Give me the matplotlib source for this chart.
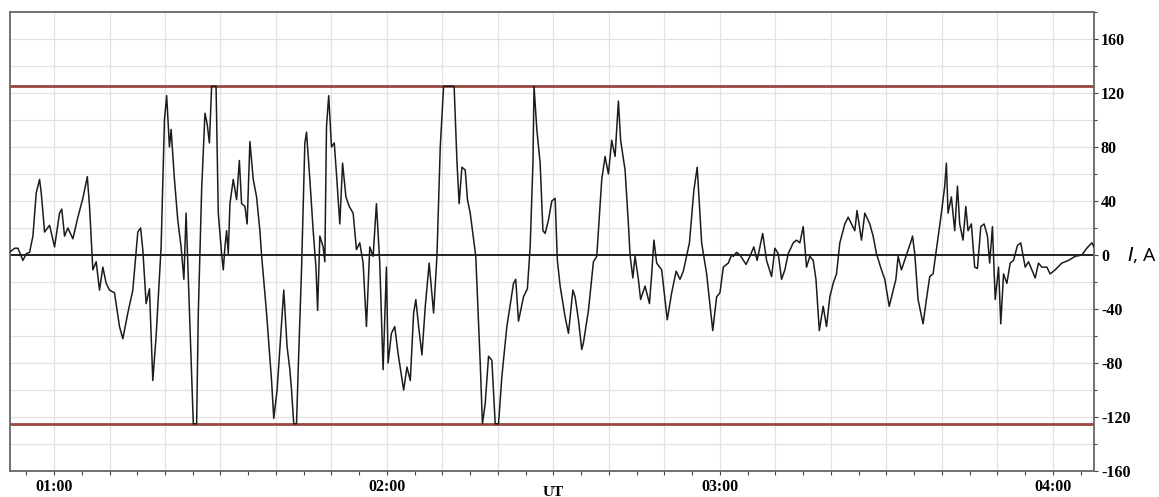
import numpy as np
import matplotlib.pyplot as plt
from matplotlib.ticker import MultipleLocator, FixedLocator

# Time in minutes after 00:00 UT and current in A
t_min = [
    51.7, 52.9, 53.5, 54.4, 55.0, 55.6, 56.2, 56.8, 57.4, 57.7, 58.3, 59.2,
    60.1, 61.0, 61.4, 61.9, 62.5, 63.4, 64.3, 65.2, 66.0, 66.4, 67.0, 67.6,
    68.2, 68.8, 69.4, 70.0, 70.9, 71.8, 72.4, 73.3, 74.2, 75.1, 75.6, 76.0,
    76.6, 77.2, 77.8, 78.4, 79.3, 79.9, 80.3, 80.8, 81.1, 81.7, 82.3, 82.9,
    83.4, 83.8, 84.4,
    85.1, 85.7, 86.0, 86.6, 87.2, 87.6, 88.0, 88.4, 89.2, 89.6, 90.2, 90.5,
    90.8, 91.1, 91.4, 91.7, 92.3, 92.9, 93.4, 93.8, 94.4, 94.8, 95.3, 95.9,
    96.5, 97.1, 97.4, 98.3, 99.2, 99.6, 100.2, 101.4, 102.0, 102.5, 102.8,
    103.2, 103.7, 104.0, 104.6, 105.2, 105.5, 106.1, 106.7, 107.2, 107.5,
    107.9, 108.5, 108.8, 109.1, 109.5, 110.0, 110.5, 110.9, 111.5, 112.0,
    112.6, 113.2, 113.9, 114.5, 115.1, 115.7, 116.3, 116.9,
    117.5, 118.1, 118.7, 119.3, 119.9, 120.2, 120.8, 121.4, 122.0, 123.0,
    123.6, 124.2, 124.8, 125.2, 125.7, 126.3, 126.9, 127.6, 128.4, 129.0,
    129.6, 130.2, 132.1, 132.6, 133.0, 133.5, 134.1, 134.5, 135.0, 136.0,
    136.8, 137.2, 137.7, 138.3, 138.9, 139.5, 140.1, 140.7, 141.6, 142.8,
    143.2, 143.7, 144.6, 145.3, 145.8, 146.3, 146.5, 147.0, 147.6, 148.1,
    148.5, 149.1, 149.7,
    150.3, 150.7, 151.2, 152.1, 152.7, 153.5, 153.9, 154.5, 155.1, 155.4,
    156.3, 157.2, 157.8, 158.7, 159.3, 159.9, 160.5, 161.1, 161.7, 162.1,
    162.9, 163.5, 163.8, 164.3, 164.7, 165.3, 165.7, 166.5, 167.3, 167.7,
    168.1, 168.6, 169.5, 170.5, 171.3, 172.1, 172.8, 173.4, 174.5, 175.3,
    175.9, 176.7, 177.6, 178.7, 179.4, 180.0, 180.6, 181.5, 182.1,
    182.4, 183.0, 183.6, 184.7, 185.4, 186.1, 186.7, 187.7, 188.4, 189.3,
    189.9, 190.5, 191.1, 191.7, 192.3, 193.2, 193.8, 194.4, 195.0, 195.6,
    196.2, 196.8, 197.3, 197.9, 198.6, 199.2, 199.8, 200.4, 201.0, 201.6,
    202.5, 203.1, 203.7, 204.3, 204.7, 205.5, 206.1, 207.0, 207.6, 208.2,
    209.1, 209.7, 210.5, 211.1, 211.7, 212.1, 212.7, 213.6, 214.5,
    214.7, 215.1, 215.7, 216.6, 217.2, 217.8, 218.4, 219.0, 219.9, 220.5,
    220.8, 221.1, 221.7, 222.3, 222.8, 223.2, 223.8, 224.3, 224.7, 225.3,
    225.9, 226.4, 227.0, 227.6, 228.2, 228.6, 229.1, 229.6, 230.2, 230.6,
    231.1, 231.7, 232.3, 232.9, 233.6, 234.2, 235.0, 235.6, 236.8, 237.4,
    238.0, 238.9, 239.5, 240.4, 241.6, 242.8, 244.0, 245.2, 246.1, 247.0,
    247.4,
]
current = [
    1, 5, 5, -4, 1, 2, 14, 46, 56, 46, 17, 22,
    6, 31, 34, 14, 20, 12, 28, 42, 58, 36, -11, -5,
    -26, -9, -21, -26, -28, -53, -62, -43, -26, 17, 20, 4,
    -36, -25, -93, -60, 6, 100, 118, 80, 93, 56, 26, 6,
    -18, 31, -41,
    -125, -125, -43, 48, 105, 97, 83, 125, 125, 31, 1, -11,
    6, 18, 1, 38, 56, 41, 70, 38, 36, 23, 84, 56,
    43, 18, 0, -43, -93, -121, -100, -26, -68, -85, -100,
    -125, -125, -85, -11, 83, 91, 56, 18, -9, -41,
    14, 6, -5, 95, 118, 80, 83, 60, 23, 68,
    43, 36, 31, 4, 9, -6, -53, 6,
    -1, 38, -6, -85, -9, -80, -58, -53, -73, -100,
    -83, -93, -43, -33, -53, -74, -38, -6, -43, -1,
    80, 125, 125, 70, 38, 65, 63, 41, 31, -1,
    -80, -125, -110, -75, -78, -125, -125, -90, -53, -21,
    -18, -49, -31, -25, 6, 68, 125, 93, 68, 18,
    16, 26, 40,
    42, -4, -23, -46, -58, -26, -31, -48, -70, -65,
    -41, -5, -1, 56, 73, 60, 85, 73, 114, 85,
    63, 23, 0, -17, -1, -18, -33, -23, -36, -14,
    11, -6, -11, -48, -28, -12, -18, -12, 9, 48,
    65, 9, -14, -56, -31, -28, -9, -6, 0,
    -1, 2, 0, -7, -1, 6, -4, 16, -4, -16,
    5, 1, -18, -11, 1, 9, 11, 9, 21, -9,
    -1, -4, -18, -56, -38, -53, -31, -21, -14, 9,
    23, 28, 23, 18, 33, 11, 31, 23, 14, 1,
    -11, -18, -38, -28, -18, -1, -11, 0, 11,
    14, 1, -33, -51, -33, -16, -14, 4, 31, 51,
    68, 31, 43, 18, 51, 23, 11, 36, 18, 23,
    -9, -10, 21, 23, 14, -6, 21, -33, -9, -51,
    -14, -21, -6, -4, 7, 9, -9, -5, -17, -6,
    -9, -9, -14, -11, -6, -4, -1, 0, 5, 9,
    6,
]

limit = 125
hour_ticks = [60, 120, 180, 240]
hour_labels = ["01:00", "02:00", "03:00", "04:00"]
y_ticks = [-160, -120, -80, -40, 0, 40, 80, 120, 160]

serif_bold = {"family": "Liberation Serif", "weight": "bold", "size": 11.5}

fig = plt.figure(figsize=(11.59, 4.97), dpi=100)
ax = fig.add_axes([10 / 1159, 1 - 471 / 497, 1084 / 1159, 459 / 497])

# light grid every 10 min and every 20 A
for x in np.arange(60, 250, 10):
    ax.axvline(x, color="#e2e2e2", lw=0.9, zorder=0)
for y in np.arange(-140, 180, 20):
    ax.axhline(y, color="#e2e2e2", lw=0.9, zorder=0)

ax.plot(t_min, current, color="#1c1c1c", lw=1.1, zorder=3)
ax.axhline(0, color="#222222", lw=1.4, zorder=2)
ax.axhline(limit, color="#9a4742", lw=2.0, zorder=2)
ax.axhline(-limit, color="#9a4742", lw=2.0, zorder=2)

ax.set_xlim(52.07, 247.4)
ax.set_ylim(-160, 180)

# x axis: hour labels, minor ticks every 5 min
ax.xaxis.set_major_locator(FixedLocator(hour_ticks))
ax.xaxis.set_minor_locator(MultipleLocator(5))
ax.set_xticklabels(hour_labels, fontdict=serif_bold)
ax.tick_params(axis="x", which="major", length=3, width=0.8, pad=3, colors="#444444", labelcolor="black")
ax.tick_params(axis="x", which="minor", length=3, width=0.8, colors="#444444")

# y axis on the right
ax.yaxis.tick_right()
ax.set_yticks(y_ticks)
ax.set_yticklabels([str(v) for v in y_ticks], fontdict=serif_bold)
ax.yaxis.set_minor_locator(MultipleLocator(20))
ax.tick_params(axis="y", which="major", length=3, width=0.8, pad=2, colors="#444444", labelcolor="black")
ax.tick_params(axis="y", which="minor", length=2, width=0.8, colors="#444444")

for side in ax.spines.values():
    side.set_color("#666666")
    side.set_linewidth(1.3)

fig.text(553 / 1159, 1 - 492 / 497, "UT", ha="center", va="center",
         fontdict={"family": "Liberation Serif", "weight": "bold", "size": 11})
fig.text(1127 / 1159, 1 - 255 / 497, "$\\mathit{I}$, A", ha="left", va="center",
         family="Open Sans", size=14)

fig.savefig("out.png", dpi=100)
